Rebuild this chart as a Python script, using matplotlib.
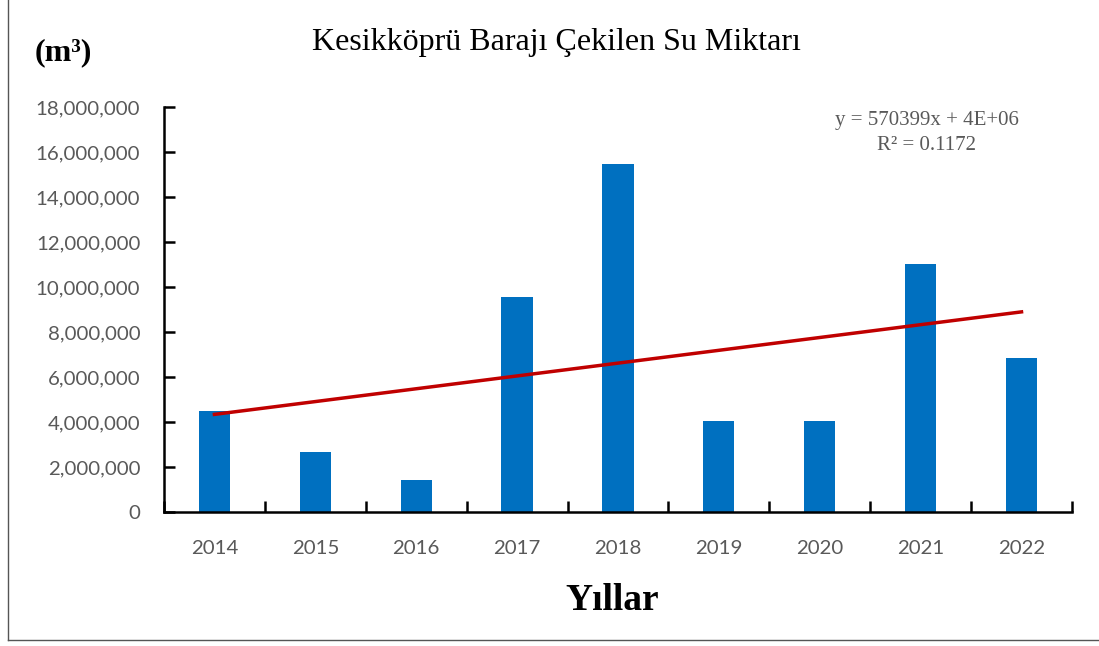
import numpy as np
import matplotlib.pyplot as plt
from matplotlib.lines import Line2D
from matplotlib.ticker import FuncFormatter

years = ["2014", "2015", "2016", "2017", "2018", "2019", "2020", "2021", "2022"]
water = [4490000, 2670000, 1420000, 9560000, 15470000, 4040000, 4040000, 11020000, 6840000]
trend_label = "y = 570399x + 4E+06"
r2_label = "R² = 0.1172"

fig = plt.figure(figsize=(10.99, 6.46), dpi=100)
ax = fig.add_axes([0.1492, 0.2074, 0.8262, 0.627])

x = np.arange(len(years))
ax.bar(x, water, width=0.31, color="#0070C0", zorder=2)

# linear trend (Excel style, x = 1..n)
coef = np.polyfit(x + 1, water, 1)
ax.plot(x, np.polyval(coef, x + 1), color="#C00000", linewidth=2.5, zorder=3)

ax.set_xlim(-0.5, len(years) - 0.5)
ax.set_ylim(0, 18000000)
ax.set_yticks(np.arange(0, 18000001, 2000000))
ax.yaxis.set_major_formatter(FuncFormatter(lambda v, p: f"{int(v):,}"))
ax.set_xticks(x)
ax.set_xticklabels(years)
ax.set_xticks(np.arange(-0.5, len(years)), minor=True)

for s in ["top", "right"]:
    ax.spines[s].set_visible(False)
for s in ["left", "bottom"]:
    ax.spines[s].set_linewidth(1.8)
ax.tick_params(axis="y", direction="in", length=8, width=1.8, labelsize=14.7, labelcolor="#595959", pad=17)
ax.tick_params(axis="x", which="major", length=0, labelsize=14.7, labelcolor="#595959", pad=20)
ax.tick_params(axis="x", which="minor", direction="in", length=8, width=1.8)
for lab in ax.get_xticklabels() + ax.get_yticklabels():
    lab.set_family("Lato")

fig.text(0.506, 0.934, "Kesikköprü Barajı Çekilen Su Miktarı", ha="center", va="center",
         family="Liberation Serif", fontsize=23)
fig.text(0.058, 0.918, "(m³)", ha="center", va="center", family="Liberation Serif",
         fontsize=23, fontweight="bold")
fig.text(0.557, 0.07, "Yıllar", ha="center", va="center", family="Liberation Serif",
         fontsize=27, fontweight="bold")
fig.text(0.843, 0.814, trend_label, ha="center", va="center", family="Liberation Serif",
         fontsize=15, color="#595959")
fig.text(0.843, 0.775, r2_label, ha="center", va="center", family="Liberation Serif",
         fontsize=15, color="#595959")

# outer frame (left and bottom visible)
fig.add_artist(Line2D([0.0075, 0.0075], [0.009, 1.0], transform=fig.transFigure, color="#555555", linewidth=1))
fig.add_artist(Line2D([0.0075, 1.0], [0.009, 0.009], transform=fig.transFigure, color="#555555", linewidth=1))

fig.savefig("out.png", dpi=100)
